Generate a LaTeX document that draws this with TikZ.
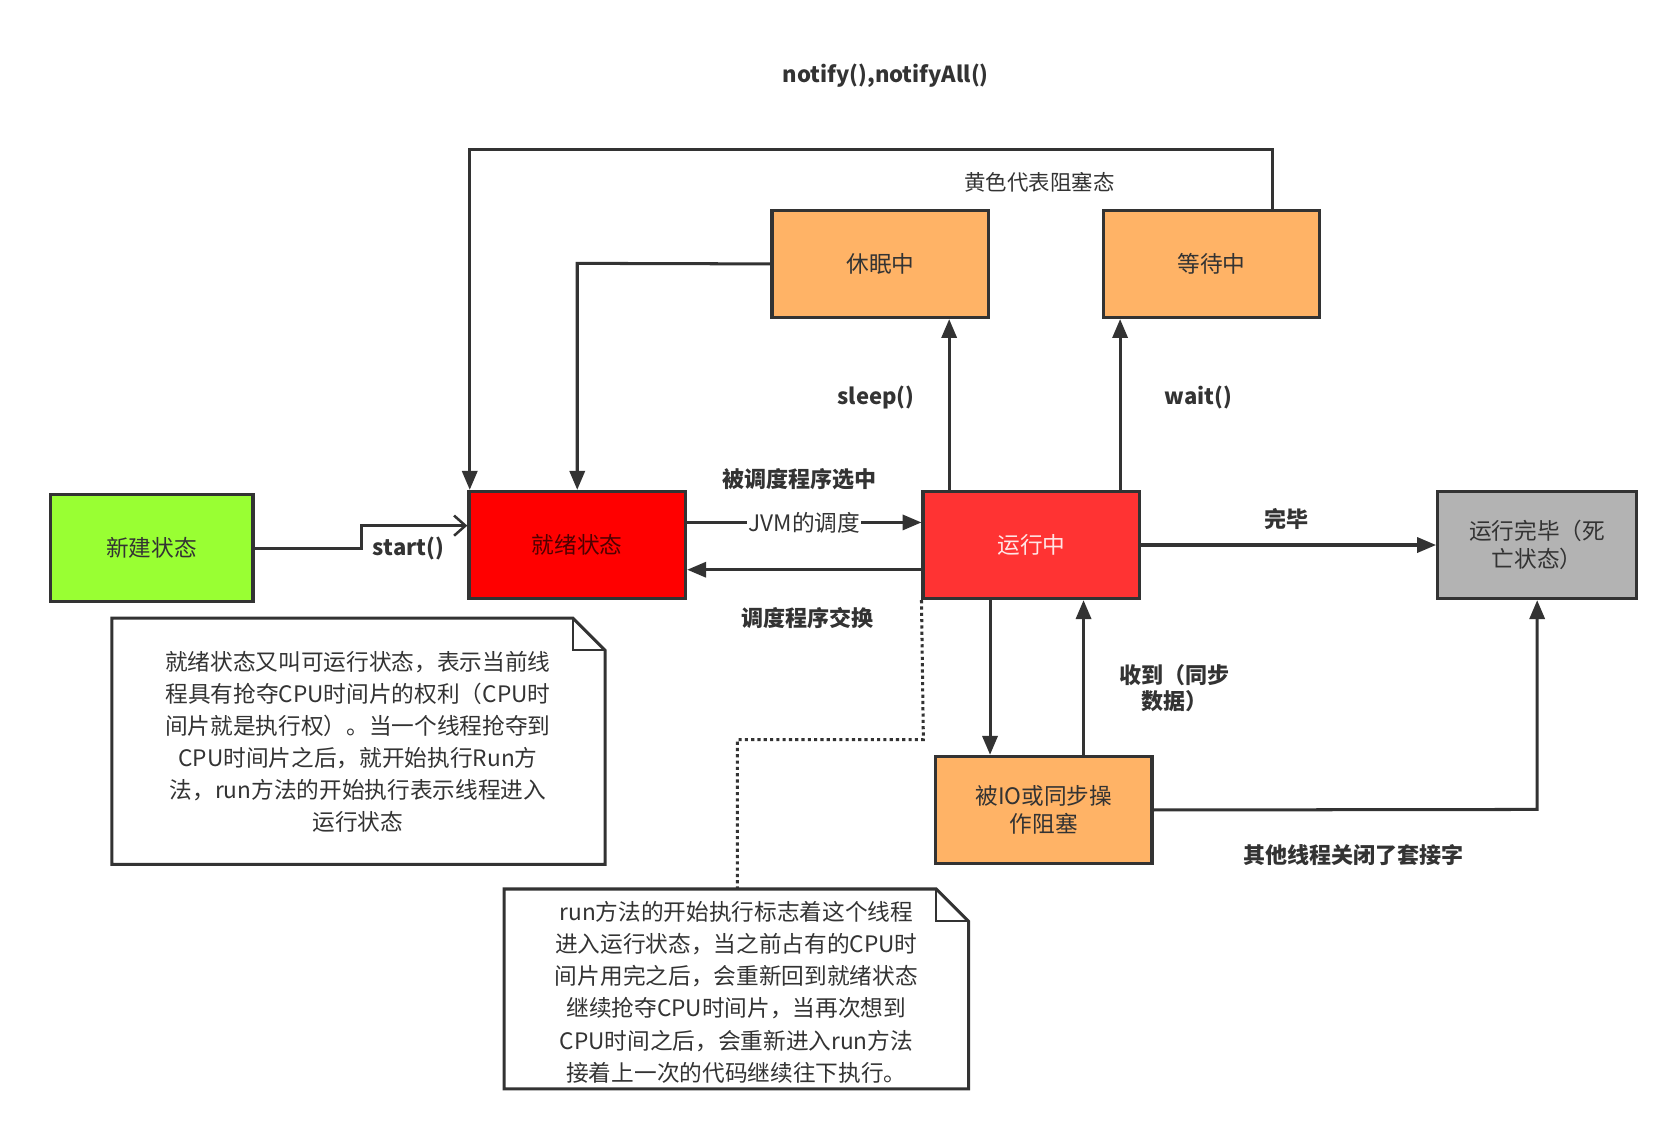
\documentclass[tikz,border=0pt]{standalone}
\usepackage{fontspec}
\setmainfont{Noto Sans CJK SC}
\usetikzlibrary{arrows.meta}
\definecolor{ln}{HTML}{333333}
\begin{document}
\begin{tikzpicture}[x=0.03cm,y=-0.03cm,
  bx/.style={draw=ln,line width=2.6pt,minimum width=172pt,minimum height=85pt,inner sep=0pt,align=center,font=\fontsize{18}{22}\selectfont,text=ln},
  ar/.style={draw=ln,line width=2.4pt,-{Triangle[length=15pt,width=12pt]}},
  lb/.style={font=\fontsize{17.5}{21}\selectfont\bfseries,text=ln,align=center},
  nt/.style={font=\fontsize{18}{25.5}\selectfont,text=ln,align=center}]
\useasboundingbox (0,0) rectangle (1561,1054);
\node[bx,fill={rgb,255:red,153;green,255;blue,51},minimum width=161pt] (new) at (141,510) {新建状态};
\node[bx,fill=red,text={rgb,255:red,80;green,0;blue,0}] (ready) at (537,507) {就绪状态};
\node[bx,fill={rgb,255:red,255;green,51;blue,51},text=white!90!red] (run) at (959.5,507) {运行中};
\node[bx,fill={rgb,255:red,255;green,179;blue,102}] (sleep) at (819,245.5) {休眠中};
\node[bx,fill={rgb,255:red,255;green,179;blue,102}] (wait) at (1127,245.5) {等待中};
\node[bx,fill={rgb,255:red,179;green,179;blue,179},minimum width=158pt] (dead) at (1430,507) {运行完毕（死\\亡状态）};
\node[bx,fill={rgb,255:red,255;green,179;blue,102}] (io) at (971,753.5) {被IO或同步操\\作阻塞};
% notes
\draw[ln,line width=2.4pt] (104,575) -- (533,575) -- (563,605) -- (563,804) -- (104,804) -- cycle;
\draw[ln,line width=1.5pt] (533,575) -- (533,605) -- (563,605);
\node[nt] (n1) at (333,690) {就绪状态又叫可运行状态，表示当前线\\程具有抢夺CPU时间片的权利（CPU时\\间片就是执行权）。当一个线程抢夺到\\CPU时间片之后，就开始执行Run方\\法，run方法的开始执行表示线程进入\\运行状态};
\draw[ln,line width=2.4pt] (469,827) -- (871,827) -- (901,857) -- (901,1013) -- (469,1013) -- cycle;
\draw[ln,line width=1.5pt] (871,827) -- (871,857) -- (901,857);
\node[nt] (n2) at (685,923) {run方法的开始执行标志着这个线程\\进入运行状态，当之前占有的CPU时\\间片用完之后，会重新回到就绪状态\\继续抢夺CPU时间片，当再次想到\\CPU时间之后，会重新进入run方法\\接着上一次的代码继续往下执行。};
% edges
\draw[draw=ln,line width=2.4pt,-{Straight Barb[length=9pt,width=16pt,line width=2pt]}] (new.east) -- (336,510) -- (336,489) -- (ready.west |- 0,489);
\node[lb] at (380,510) {start()};
\coordinate (w1) at (1184,139); \coordinate (w2) at (437,139);
\draw[ar] (wait.north -| 1184,0) -- (w1) -- (w2) -- (ready.north -| 437,0);
\node[lb] at (824,70) {notify(),notifyAll()};
\node[font=\fontsize{17}{20}\selectfont,text=ln] at (967,170) {黄色代表阻塞态};
\coordinate (s1) at (537,245);
\draw[ar] (sleep.west) -- (s1) -- (ready.north);
\draw[ar] (ready.east |- 0,486) -- node[fill=white,inner sep=1pt,font=\fontsize{18}{22}\selectfont,text=ln] {JVM的调度} (run.west |- 0,486);
\draw[ar] (run.west |- 0,530) -- (ready.east |- 0,530);
\node[lb] at (744,446) {被调度程序选中};
\node[lb] at (751,575) {调度程序交换};
\draw[ar] (run.north -| 883,0) -- (sleep.south -| 883,0);
\node[lb] at (815,370) {sleep()};
\draw[ar] (run.north -| 1042,0) -- (wait.south -| 1042,0);
\node[lb] at (1115,370) {wait()};
\draw[ar] (run.east) -- (dead.west);
\node[lb] at (1197,483) {完毕};
\draw[ar] (run.south -| 921,0) -- (io.north -| 921,0);
\draw[ar] (io.north -| 1008,0) -- (run.south -| 1008,0);
\node[lb] at (1093,640) {收到（同步\\数据）};
\coordinate (d1) at (1430,753);
\draw[ar] (io.east) -- (d1) -- (dead.south);
\node[lb] at (1259,795) {其他线程关闭了套接字};
\coordinate (p1) at (859,688); \coordinate (p2) at (686,688);
\draw[ln,line width=2.4pt,dash pattern=on 2.5pt off 2.5pt] (run.south west) -- (p1) -- (p2) -- (686,827);
\end{tikzpicture}
\end{document}
